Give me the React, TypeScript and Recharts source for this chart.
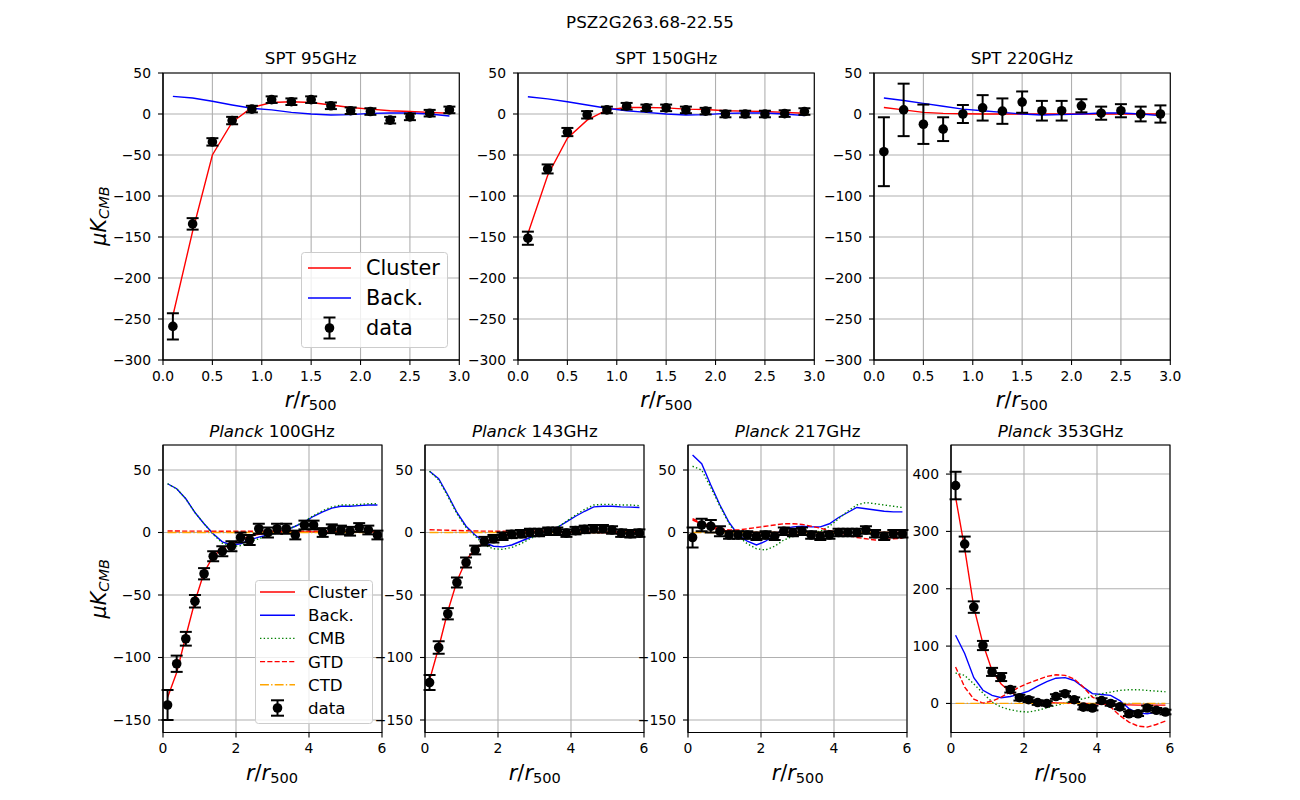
import React from 'react';
import {
  ComposedChart,
  Line,
  Scatter,
  ErrorBar,
  XAxis,
  YAxis,
  CartesianGrid,
  ReferenceArea,
  Legend,
} from 'recharts';

const FONT = 'DejaVu Sans';

// ---------------- SPT ----------------
const sptR = [0.1, 0.3, 0.5, 0.7, 0.9, 1.1, 1.3, 1.5, 1.7, 1.9, 2.1, 2.3, 2.5, 2.7, 2.9];

const spt95Data = [-259, -134, -34, -8, 6, 17.5, 15, 17.5, 10, 4, 3, -7.5, -3.5, 1, 5];
const spt95Err = [16, 7, 4.5, 4.5, 4, 4, 4, 4, 4, 4, 4, 4, 4, 4, 4];
const spt95Cluster = [-246, -143, -50, -10, 8, 14, 15, 14, 11, 8, 6, 4, 3, 2, 1];
const spt95Back = [21.5, 19.5, 15.5, 11, 7, 5, 2, 0, -1.2, -0.8, 0.8, 1.2, 1.2, 0, -2.5];

const spt150Data = [-151.5, -67, -22, -1, 5, 9.5, 7.5, 7.5, 5, 3.5, 0, 0, 0, 0.5, 3];
const spt150Err = [8, 5.5, 5, 4.5, 4, 4, 4, 4, 4, 4, 4, 4, 4, 4, 4];
const spt150Cluster = [-146, -75, -29.5, -7.5, 5, 8, 8, 7.5, 6, 5.5, 4, 3.5, 3, 2, 1];
const spt150Back = [21, 18.5, 15, 11, 7, 4, 2, 0, -1.2, -0.8, 0.8, 1.2, 1.2, 0, -2];

const spt220Data = [-46, 5, -12.5, -18.5, 0, 7.5, 3.5, 14.5, 4, 4, 10, 1, 4, 0, 0];
const spt220Err = [42, 32, 24, 14.5, 11, 15.5, 15.5, 13, 12, 12, 8, 8, 8, 9, 10.5];
const spt220Cluster = [8, 5, 2, 0.8, 0.3, 0, 0, 0, 0, 0, 0, 0, 0, 0, 0];
const spt220Back = [19.5, 16.5, 13, 9.5, 6, 4, 2, 0, -1.2, -0.8, 0, 1.2, 1.2, 0, -2];

// ---------------- Planck ----------------
const planckR = [
  0.125, 0.375, 0.625, 0.875, 1.125, 1.375, 1.625, 1.875, 2.125, 2.375, 2.625, 2.875,
  3.125, 3.375, 3.625, 3.875, 4.125, 4.375, 4.625, 4.875, 5.125, 5.375, 5.625, 5.875,
];

const p100Data = [-138, -105, -85, -55, -33, -19, -15, -11, -4, -6, 3, 0, 3, 3, -2, 6, 6, 0, 3, 2, 1, 4, 2, -2];
const p100Err = [12, 6.5, 5.5, 5, 4.5, 4, 4, 4, 4, 4, 4, 4, 4, 4, 3.5, 3.5, 3.5, 3.5, 3.5, 3.5, 3.5, 3.5, 3.5, 3.5];
const p100Cluster = [-132, -112, -83, -55, -32, -19, -13, -9, -5.5, -3, -1.5, -0.5, 0, 0.5, 0.5, 0.5, 0.5, 0.5, 0.5, 0.5, 0.5, 0.5, 0.5, 0.5];
const p100Back = [39, 35, 27, 16, 7, -1, -7.5, -10, -9, -6, -3.7, -2, 0, 2, 5, 8.5, 13, 16.5, 19.5, 21, 21, 21.5, 22, 22];
const p100Cmb = [39, 35, 27, 16, 7, -1.5, -8.5, -11, -10.5, -7.5, -5, -2.5, -0.5, 2, 5, 9, 13.5, 17.5, 20.5, 22, 22, 22.5, 23, 23];
const p100Gtd = [1.2, 1.2, 1.1, 1.1, 1.1, 1, 1, 1, 1, 1, 1, 1, 1, 1, 1, 1, 1, 0.9, 0.9, 0.9, 0.9, 0.8, 0.8, 0.8];
const p100Ctd = [0, 0, 0, 0, 0, 0, 0, 0, 0, 0, 0, 0, 0, 0, 0, 0, 0, 0, 0, 0, 0, 0, 0, 0];

const p143Data = [-120, -92, -65, -40, -24, -14, -7, -5, -3, -1.5, -1, 0, 0, 1, 1, -0.5, 1.5, 2.5, 3, 3, 2, -0.5, -1, -0.5];
const p143Err = [6, 5, 4.5, 4, 4, 3.5, 3.5, 3, 3, 3, 3, 3, 3, 3, 3, 3, 3, 3, 3, 3, 3, 3, 3, 3];
const p143Cluster = [-118, -92, -63, -39, -22, -13, -8, -5, -3, -2, -1, -0.5, 0, 0, 0.3, 0.3, 0.3, 0.3, 0.5, 0.5, 0.5, 0.5, 0.5, 0.5];
const p143Back = [49, 43, 30, 16, 5, -2, -8, -11, -11.5, -10, -7, -4, -1.5, 1, 4, 8.5, 13, 17, 20.5, 21, 21, 20.5, 20.3, 20];
const p143Cmb = [49, 42, 29, 15, 4, -3, -10, -13, -13.5, -12, -9, -5, -2, 0.5, 4, 9, 14, 18.5, 22, 22.5, 22.5, 22, 22, 21.5];
const p143Gtd = [2.2, 2, 1.8, 1.6, 1.4, 1.2, 1.1, 1, 1, 1, 1, 1, 1, 1, 0.8, 0.6, 0.4, 0.2, 0, -0.2, -0.4, -0.5, -0.6, -0.6];
const p143Ctd = [0, 0, 0, 0, 0, 0, 0, 0, 0, 0, 0, 0, 0, 0, 0, 0, 0, 0, 0, 0, 0, 0, 0, 0];

const p217Data = [-4, 6, 5, 1, -2, -2, -2, -3, -2, -3, 1, 0, 1, -2, -3, -2, 0, 0, 0, 2, -1, -3, -1, -1];
const p217Err = [8, 5, 5, 4, 3, 3, 3, 3, 3, 3, 3, 3, 3, 3, 3, 3, 3, 3, 3, 3, 3, 3, 3, 3];
const p217Cluster = [10, 7, 4, 2, 1, 0.5, 0.2, 0, 0, 0, 0, 0, 0, 0, 0, 0, 0, 0, 0, 0, 0, 0, 0, 0];
const p217Back = [62, 55, 38, 22, 8, -2, -7, -10, -7, -2, 3, 4.5, 5, 4.5, 4.5, 7, 12, 16, 20, 19, 18, 17, 16.5, 16.5];
const p217Cmb = [53, 50, 36, 21, 7, -3, -9, -13, -14, -11, -6, -3, -1, 0, 1, 5, 11, 17, 22, 24, 23, 22, 21, 20];
const p217Gtd = [11, 8, 5, 3, 2, 2, 3, 4, 5, 6, 7, 7, 6.5, 5, 3.5, 1.5, 0, -2, -4, -5, -6, -5.5, -5, -4.5];
const p217Ctd = [0, 0, 0, 0, 0, 0, 0, 0, 0, 0, 0, 0, 0, 0, 0, 0, 0, 0, 0, 0, 0, 0, 0, 0];

const p353Data = [380, 278, 168, 101, 55, 46, 24, 10, 6.5, 1.5, 0, 12, 17, 6.5, -6.5, -8, 5, 0, -6, -18, -18, -8, -12, -15];
const p353Err = [24, 13, 10, 8, 7, 7, 5, 5, 4, 4, 4, 4, 4, 4, 4, 4, 4, 4, 4, 4, 4, 4, 4, 4];
const p353Cluster = [360, 270, 168, 104, 57, 34, 20, 11, 6.4, 3.5, 1.7, 1, 0.5, 0, 0, -0.5, -1, -1.5, -2, -2.5, -3, -3, -3, -3];
const p353Back = [119, 87, 45, 23, 14, 10, 12, 16, 21.5, 30, 38, 44, 45, 40, 28.5, 17, 15.5, 14, 5, -9, -17, -18, -15, -9];
const p353Cmb = [53, 49, 34, 18, 2.3, -6.4, -11, -14, -15, -12, -7.6, -3.5, 0.6, 5.2, 8.2, 12.2, 16.9, 19.8, 22.7, 23.9, 23.9, 22.7, 21.5, 20.4];
const p353Gtd = [63.5, 28.5, 7.6, 0.6, 4, 11, 19.8, 28.5, 35.5, 41.3, 47, 50, 49, 42.5, 28.5, 11, 3.5, -6.4, -21, -32.6, -39.6, -41.3, -36.7, -30.9];
const p353Ctd = [0, 0, 0, 0, 0, 0, 0, 0, 0, 0, 0, 0, 0, 0, 0, 0, 0, 0, 0, 0, 0, 0, 0, 0];

// tick labels
const sptXTicks = [0, 0.5, 1, 1.5, 2, 2.5, 3];
const sptYTicks = [50, 0, -50, -100, -150, -200, -250, -300];
const planckXTicks = [0, 2, 4, 6];
const planckYTicks = [50, 0, -50, -100, -150];
const p353YTicks = [0, 100, 200, 300, 400];

function buildRows(r: number[], cols: Record<string, number[]>) {
  return r.map((x, i) => {
    const o: Record<string, number> = { x };
    Object.keys(cols).forEach((k) => {
      o[k] = cols[k][i];
    });
    return o;
  });
}

const LW = 1.39;

type SeriesDef = { key: string; color: string; dash?: string; label: string };
const S_CLUSTER: SeriesDef = { key: 'cluster', color: '#ff0000', label: 'Cluster' };
const S_BACK: SeriesDef = { key: 'back', color: '#0000ff', label: 'Back.' };
const S_CMB: SeriesDef = { key: 'cmb', color: '#008000', dash: '1.39 2.29', label: 'CMB' };
const S_GTD: SeriesDef = { key: 'gtd', color: '#ff0000', dash: '5.1 2.2', label: 'GTD' };
const S_CTD: SeriesDef = { key: 'ctd', color: '#ffa500', dash: '8.9 2.2 1.4 2.2', label: 'CTD' };

const sptSeries = [S_CLUSTER, S_BACK];
const planckSeries = [S_CLUSTER, S_BACK, S_CMB, S_GTD, S_CTD];

const minus = (v: number) => String(v).replace('-', '\u2212');

type LegendSpec = {
  left: number;
  top: number;
  width: number;
  height: number;
  fontSize: number;
  rows: number[];
  hx0: number;
  hx1: number;
  tx: number;
  errHalf: number;
  capHalf: number;
  items: SeriesDef[];
};

function LegendBox({ spec }: { spec: LegendSpec }) {
  const { width, height, fontSize, rows, hx0, hx1, tx, errHalf, capHalf, items } = spec;
  const hc = (hx0 + hx1) / 2;
  const dataY = rows[items.length];
  return (
    <svg width={width} height={height} style={{ display: 'block' }}>
      <rect x={0.5} y={0.5} width={width - 1} height={height - 1} rx={3} fill="#ffffff" fillOpacity={0.8} stroke="#cccccc" />
      {items.map((it, i) => (
        <g key={it.key}>
          <line x1={hx0} x2={hx1} y1={rows[i]} y2={rows[i]} stroke={it.color} strokeWidth={LW} strokeDasharray={it.dash} />
          <text x={tx} y={rows[i]} dominantBaseline="central" fontSize={fontSize} fontFamily={FONT} fill="#000">
            {it.label}
          </text>
        </g>
      ))}
      <line x1={hc} x2={hc} y1={dataY - errHalf} y2={dataY + errHalf} stroke="#000" strokeWidth={2} />
      <line x1={hc - capHalf} x2={hc + capHalf} y1={dataY - errHalf} y2={dataY - errHalf} stroke="#000" strokeWidth={2} />
      <line x1={hc - capHalf} x2={hc + capHalf} y1={dataY + errHalf} y2={dataY + errHalf} stroke="#000" strokeWidth={2} />
      <circle cx={hc} cy={dataY} r={4.8} fill="#000" />
      <text x={tx} y={dataY} dominantBaseline="central" fontSize={fontSize} fontFamily={FONT} fill="#000">
        data
      </text>
    </svg>
  );
}

const ML = 60;
const MT = 10;
const MR = 24;
const XH = 40;

type PanelProps = {
  left: number;
  top: number;
  w: number;
  h: number;
  rows: Record<string, number>[];
  xDomain: [number, number];
  xTicks: number[];
  xFmt: (v: number) => string;
  yDomain: [number, number];
  yTicks: number[];
  series: SeriesDef[];
  legend?: LegendSpec;
};

const dotShape = (p: any) => <circle cx={p.cx} cy={p.cy} r={4.8} fill="#000" />;

function Panel(props: PanelProps) {
  const { left, top, w, h, rows, xDomain, xTicks, xFmt, yDomain, yTicks, series, legend } = props;
  const tickStyle = { fill: '#000', fontSize: 13.9, fontFamily: FONT };
  return (
    <div style={{ position: 'absolute', left: left - ML, top: top - MT }}>
      <ComposedChart
        width={w + ML + MR}
        height={h + MT + XH}
        data={rows}
        margin={{ top: MT, right: MR, bottom: 0, left: 0 }}
      >
        <CartesianGrid stroke="#b0b0b0" strokeWidth={1.1} />
        <XAxis
          dataKey="x"
          type="number"
          domain={xDomain}
          ticks={xTicks}
          interval={0}
          tickFormatter={xFmt}
          height={XH}
          tickSize={5}
          tickMargin={6}
          stroke="#000"
          strokeWidth={1.1}
          tick={tickStyle}
          allowDataOverflow
        />
        <YAxis
          type="number"
          domain={yDomain}
          ticks={yTicks}
          interval={0}
          width={ML}
          tickFormatter={minus}
          tickSize={5}
          tickMargin={7}
          stroke="#000"
          strokeWidth={1.1}
          tick={tickStyle}
          allowDataOverflow
        />
        {series.map((s) => (
          <Line
            key={s.key}
            dataKey={s.key}
            type="linear"
            stroke={s.color}
            strokeWidth={LW}
            strokeDasharray={s.dash}
            dot={false}
            activeDot={false}
            isAnimationActive={false}
          />
        ))}
        <Scatter dataKey="data" shape={dotShape} fill="#000" isAnimationActive={false}>
          <ErrorBar dataKey="err" direction="y" width={6} stroke="#000" strokeWidth={2} />
        </Scatter>
        <ReferenceArea
          x1={xDomain[0]}
          x2={xDomain[1]}
          y1={yDomain[0]}
          y2={yDomain[1]}
          fill="none"
          fillOpacity={0}
          stroke="#000"
          strokeWidth={1.1}
          ifOverflow="visible"
        />
        {legend && (
          <Legend
            layout="vertical"
            align="center"
            verticalAlign="middle"
            wrapperStyle={{ left: legend.left, top: legend.top, width: legend.width, height: legend.height }}
            content={() => <LegendBox spec={legend} />}
          />
        )}
      </ComposedChart>
    </div>
  );
}

const TOP_LEFTS = [162.5, 518.1, 873.7];
const TOP_W = 296.3;
const TOP_Y = 72.5;
const TOP_H = 287;
const BOT_LEFTS = [162.5, 425.3, 688.2, 951];
const BOT_W = 219;
const BOT_Y = 445;
const BOT_H = 287.5;

const topLegend: LegendSpec = {
  left: 301 - (TOP_LEFTS[0] - ML),
  top: 252 - (TOP_Y - MT),
  width: 147,
  height: 96,
  fontSize: 20.8,
  rows: [16, 46, 76],
  hx0: 7,
  hx1: 50,
  tx: 65,
  errHalf: 10.5,
  capHalf: 6,
  items: sptSeries,
};

const botLegend: LegendSpec = {
  left: 255 - (BOT_LEFTS[0] - ML),
  top: 580 - (BOT_Y - MT),
  width: 118,
  height: 144,
  fontSize: 16.7,
  rows: [12, 35.2, 58.4, 81.6, 104.8, 128],
  hx0: 5,
  hx1: 40,
  tx: 53,
  errHalf: 7.7,
  capHalf: 6.5,
  items: planckSeries,
};

const fmt1 = (v: number) => v.toFixed(1);
const fmt0 = (v: number) => String(v);

export default function App() {
  const spt = [
    { title: 'SPT 95GHz', rows: buildRows(sptR, { data: spt95Data, err: spt95Err, cluster: spt95Cluster, back: spt95Back }) },
    { title: 'SPT 150GHz', rows: buildRows(sptR, { data: spt150Data, err: spt150Err, cluster: spt150Cluster, back: spt150Back }) },
    { title: 'SPT 220GHz', rows: buildRows(sptR, { data: spt220Data, err: spt220Err, cluster: spt220Cluster, back: spt220Back }) },
  ];
  const planck = [
    {
      freq: '100GHz',
      rows: buildRows(planckR, { data: p100Data, err: p100Err, cluster: p100Cluster, back: p100Back, cmb: p100Cmb, gtd: p100Gtd, ctd: p100Ctd }),
      yDomain: [-160, 70] as [number, number],
      yTicks: planckYTicks,
    },
    {
      freq: '143GHz',
      rows: buildRows(planckR, { data: p143Data, err: p143Err, cluster: p143Cluster, back: p143Back, cmb: p143Cmb, gtd: p143Gtd, ctd: p143Ctd }),
      yDomain: [-160, 70] as [number, number],
      yTicks: planckYTicks,
    },
    {
      freq: '217GHz',
      rows: buildRows(planckR, { data: p217Data, err: p217Err, cluster: p217Cluster, back: p217Back, cmb: p217Cmb, gtd: p217Gtd, ctd: p217Ctd }),
      yDomain: [-160, 70] as [number, number],
      yTicks: planckYTicks,
    },
    {
      freq: '353GHz',
      rows: buildRows(planckR, { data: p353Data, err: p353Err, cluster: p353Cluster, back: p353Back, cmb: p353Cmb, gtd: p353Gtd, ctd: p353Ctd }),
      yDomain: [-50.7, 450.7] as [number, number],
      yTicks: p353YTicks,
    },
  ];

  const xLabel = (cx: number, y: number, k: string) => (
    <text key={k} x={cx} y={y} textAnchor="middle" fontSize={20.8} fontFamily={FONT} fill="#000">
      <tspan fontStyle="italic">r</tspan>
      <tspan>/</tspan>
      <tspan fontStyle="italic">r</tspan>
      <tspan fontSize={14.6} dy={3}>500</tspan>
    </text>
  );
  const yLabel = (x: number, cy: number, k: string) => (
    <text key={k} transform={`translate(${x},${cy}) rotate(-90)`} textAnchor="middle" fontSize={20.8} fontFamily={FONT} fontStyle="italic" fill="#000">
      <tspan>μK</tspan>
      <tspan fontSize={14.6} dy={3}>CMB</tspan>
    </text>
  );

  return (
    <div style={{ position: 'absolute', left: 0, top: 0, width: 1300, height: 800, background: '#fff', fontFamily: FONT }}>
      {spt.map((p, i) => (
        <Panel
          key={p.title}
          left={TOP_LEFTS[i]}
          top={TOP_Y}
          w={TOP_W}
          h={TOP_H}
          rows={p.rows}
          xDomain={[0, 3]}
          xTicks={sptXTicks}
          xFmt={fmt1}
          yDomain={[-300, 50]}
          yTicks={sptYTicks}
          series={sptSeries}
          legend={i === 0 ? topLegend : undefined}
        />
      ))}
      {planck.map((p, i) => (
        <Panel
          key={p.freq}
          left={BOT_LEFTS[i]}
          top={BOT_Y}
          w={BOT_W}
          h={BOT_H}
          rows={p.rows}
          xDomain={[0, 6]}
          xTicks={planckXTicks}
          xFmt={fmt0}
          yDomain={p.yDomain}
          yTicks={p.yTicks}
          series={planckSeries}
          legend={i === 0 ? botLegend : undefined}
        />
      ))}
      <svg width={1300} height={800} style={{ position: 'absolute', left: 0, top: 0, pointerEvents: 'none' }}>
        <text x={650} y={28} textAnchor="middle" fontSize={16.7} fontFamily={FONT} fill="#000">
          PSZ2G263.68-22.55
        </text>
        {spt.map((p, i) => (
          <text key={p.title} x={TOP_LEFTS[i] + TOP_W / 2} y={64} textAnchor="middle" fontSize={16.7} fontFamily={FONT} fill="#000">
            {p.title}
          </text>
        ))}
        {planck.map((p, i) => (
          <text key={p.freq} x={BOT_LEFTS[i] + BOT_W / 2} y={437} textAnchor="middle" fontSize={16.7} fontFamily={FONT} fill="#000">
            <tspan fontStyle="italic">Planck</tspan>
            <tspan> {p.freq}</tspan>
          </text>
        ))}
        {TOP_LEFTS.map((l, i) => xLabel(l + TOP_W / 2, 406.5, 'tx' + i))}
        {BOT_LEFTS.map((l, i) => xLabel(l + BOT_W / 2, 779.5, 'bx' + i))}
        {yLabel(106, TOP_Y + TOP_H / 2, 'ty')}
        {yLabel(106, BOT_Y + BOT_H / 2, 'by')}
      </svg>
    </div>
  );
}
